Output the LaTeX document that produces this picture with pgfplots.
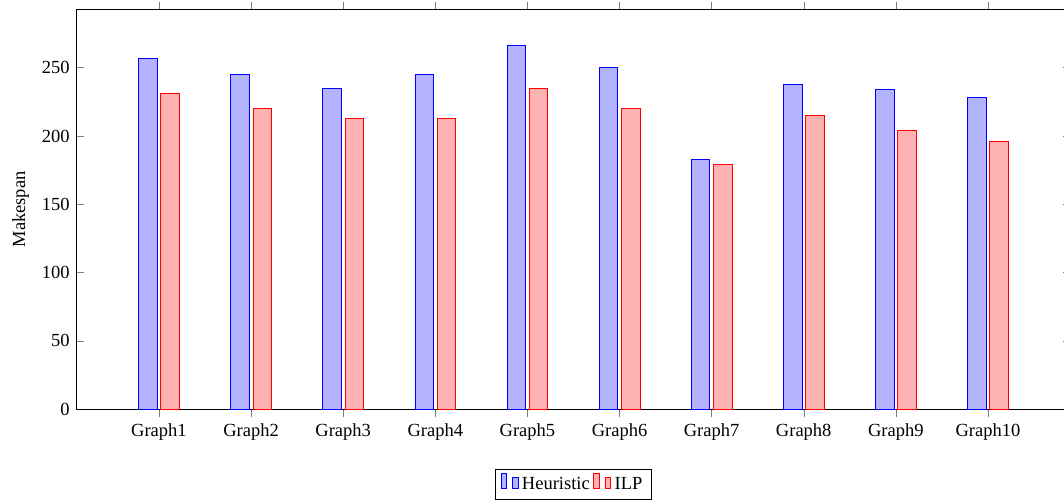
\documentclass[border=0pt]{standalone}
\usepackage{fontspec}
\setmainfont{Liberation Serif}
\usepackage{pgfplots}
\pgfplotsset{compat=1.18}
\begin{document}
\begin{tikzpicture}
\begin{axis}[
  ybar,
  scale only axis,
  width=537.5pt, height=216pt,
  xmin=0.1, xmax=10.9,
  ymin=0, ymax=292.6,
  xtick=data,
  xticklabels={Graph1,Graph2,Graph3,Graph4,Graph5,Graph6,Graph7,Graph8,Graph9,Graph10},
  ytick={0,50,100,150,200,250},
  xtick align=outside,
  ylabel={Makespan},
  /pgf/number format/assume math mode=true,
  legend style={at={(0.5,-0.15)}, anchor=north, legend columns=-1},
]
\addplot coordinates {(1,257) (2,245) (3,235) (4,245) (5,266) (6,250) (7,183) (8,238) (9,234) (10,228)};
\addplot coordinates {(1,231) (2,220) (3,213) (4,213) (5,235) (6,220) (7,179) (8,215) (9,204) (10,196)};
\legend{Heuristic,ILP}
\end{axis}
\pgfresetboundingbox
\path ([xshift=-41.1pt,yshift=-49.2pt]current axis.south west) rectangle ([xshift=-3.7pt,yshift=5.1pt]current axis.north east);
\end{tikzpicture}
\end{document}
